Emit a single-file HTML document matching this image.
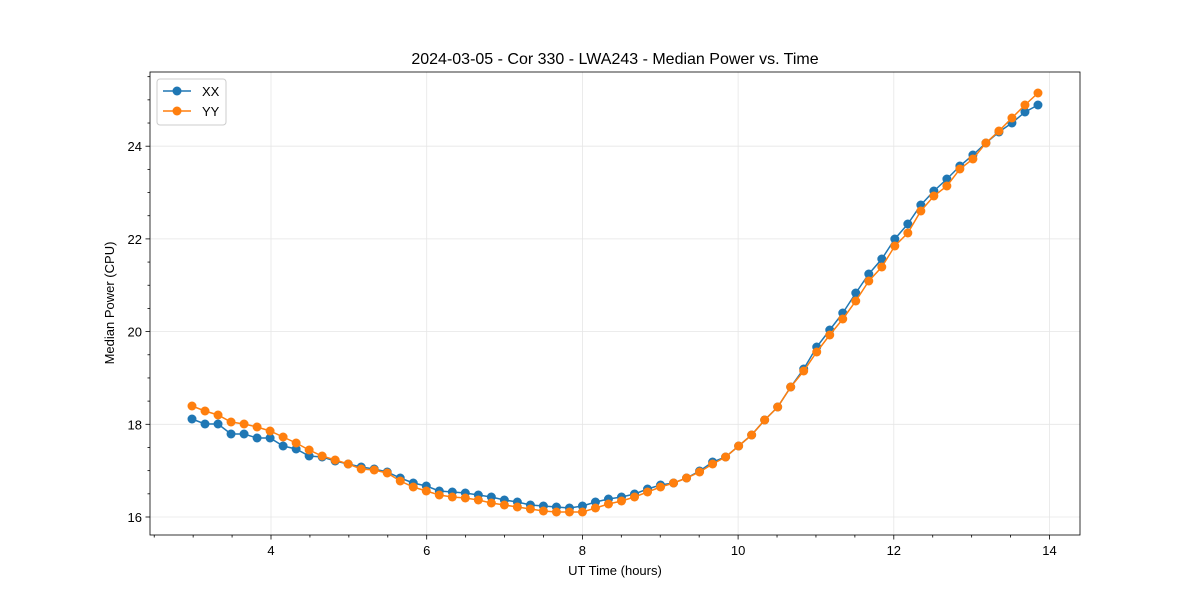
<!DOCTYPE html>
<html><head><meta charset="utf-8"><style>body{margin:0;background:#fff}svg{display:block}text{font-family:"Liberation Sans","DejaVu Sans",sans-serif;fill:#000}</style></head>
<body><svg id="s" width="1200" height="600" xmlns="http://www.w3.org/2000/svg">
<rect width="1200" height="600" fill="#fff"/>
<g id="grid" stroke="#e6e6e6" stroke-width="0.8"></g>
<g id="ticks" stroke="#000" stroke-width="0.8"></g>
<g id="data"></g>
<rect x="150" y="72" width="930" height="463" fill="none" stroke="#000" stroke-width="0.8"/>
<text x="615" y="64" font-size="16" text-anchor="middle">2024-03-05 - Cor 330 - LWA243 - Median Power vs. Time</text>
<text x="615" y="575" font-size="13" text-anchor="middle">UT Time (hours)</text>
<text transform="translate(114,303) rotate(-90)" font-size="13" text-anchor="middle">Median Power (CPU)</text>
<g id="lab" font-size="13"></g>
<rect x="157" y="79" width="69" height="46" rx="3" fill="#fff" fill-opacity="0.8" stroke="#ccc"/>
<line x1="163" y1="91" x2="191" y2="91" stroke="#1f77b4" stroke-width="1.5"/><circle cx="177" cy="91" r="4.5" fill="#1f77b4"/>
<text x="202" y="96" font-size="13">XX</text>
<line x1="163" y1="111" x2="191" y2="111" stroke="#ff7f0e" stroke-width="1.5"/><circle cx="177" cy="111" r="4.5" fill="#ff7f0e"/>
<text x="202" y="116" font-size="13">YY</text>
</svg>
<script>
var ns="http://www.w3.org/2000/svg";
function el(p,t,a,txt){var e=document.createElementNS(ns,t);for(var k in a)e.setAttribute(k,a[k]);if(txt)e.textContent=txt;document.getElementById(p).appendChild(e);}
var xs=function(h){return 271+(h-4)*77.85}, ys=function(v){return 517-(v-16)*46.35};
for(var h=4;h<=14;h+=2){var x=xs(h);el('grid','line',{x1:x,y1:72,x2:x,y2:535});el('ticks','line',{x1:x,y1:535,x2:x,y2:539.5});el('lab','text',{x:x,y:555,'text-anchor':'middle'},''+h);}
for(var h=2.5;h<14.3;h+=0.5){if(h%2==0)continue;var x=xs(h);if(x<150||x>1080)continue;el('ticks','line',{x1:x,y1:535,x2:x,y2:537.5});}
for(var v=16;v<=24;v+=2){var y=ys(v);el('grid','line',{x1:150,y1:y,x2:1080,y2:y});el('ticks','line',{x1:145.5,y1:y,x2:150,y2:y});el('lab','text',{x:142,y:y+5,'text-anchor':'end'},''+v);}
for(var v=15.5;v<25.6;v+=0.5){if(v%2==0)continue;var y=ys(v);if(y<72||y>535)continue;el('ticks','line',{x1:147.5,y1:y,x2:150,y2:y});}
var A=[419,424,424,434,434,438,438,446,449,456,457,461,464,467,469,472,478,483,486,491,492,493,495,497,500,502,505,506,507,508,
506,502,499,497,494,489,485,483,478,471,462,457,446,435,420,407,387,369,347,330,313,293,274,259,239,224,205,191,179,166,155,143,132,123,112,105];
var B=[406,411,415,422,424,427,431,437,443,450,456,460,464,469,470,473,481,487,491,495,497,498,500,503,505,507,509,511,512,512,
512,508,504,501,497,492,487,483,478,472,464,457,446,435,420,407,387,371,352,335,319,301,281,267,246,233,211,196,186,169,159,143,131,118,105,93];
function ser(d,c){var p=d.map(function(y,i){return (192+i*13.015).toFixed(1)+','+y}).join(' ');el('data','polyline',{points:p,fill:'none',stroke:c,'stroke-width':1.5});d.forEach(function(y,i){el('data','circle',{cx:192+i*13.015,cy:y,r:4.5,fill:c});});}
ser(A,'#1f77b4');ser(B,'#ff7f0e');
</script></body></html>
